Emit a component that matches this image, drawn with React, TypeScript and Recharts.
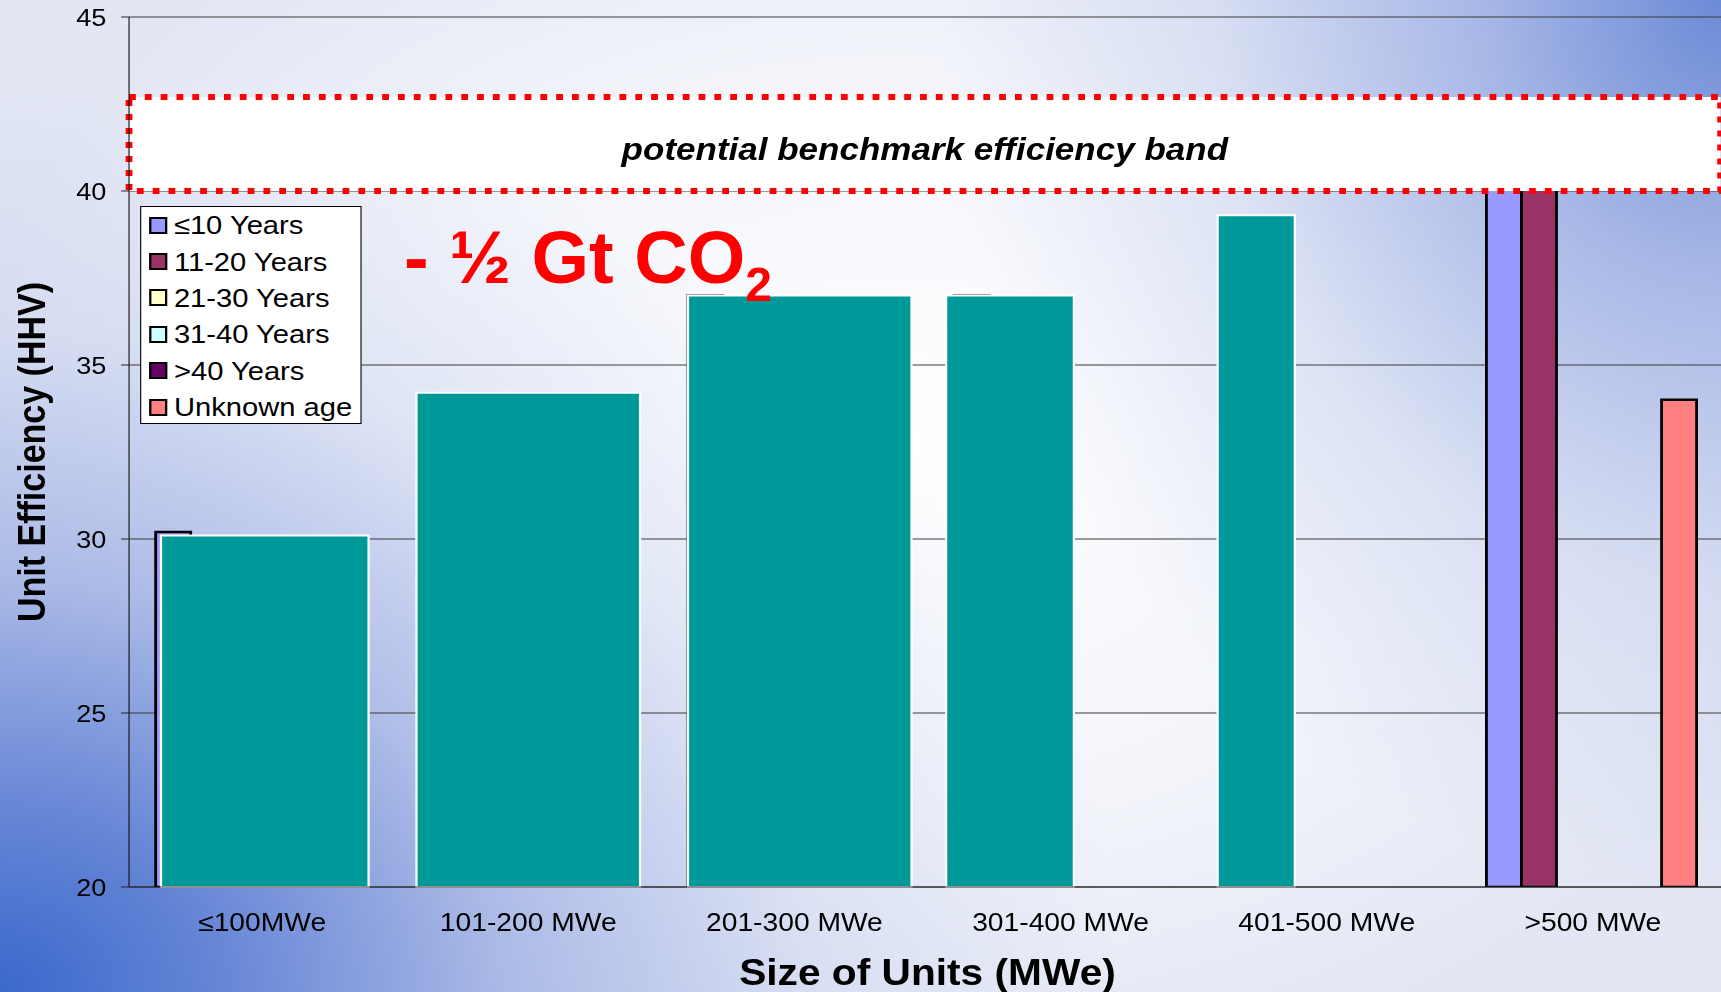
import React from "react";
import { BarChart, Bar, XAxis, YAxis, CartesianGrid, Legend, ReferenceArea } from "recharts";

// size classes on the x axis
const sizeClasses = ["≤100MWe", "101-200 MWe", "201-300 MWe", "301-400 MWe", "401-500 MWe", ">500 MWe"];

// unit efficiency (HHV, %) per age group, one value per size class
const upTo10Years = [30.2, null, 37.0, 37.0, null, 41.0];
const years11to20 = [null, null, null, null, null, 41.0];
const years21to30 = [null, null, null, null, null, null];
const years31to40 = [null, null, null, null, null, null];
const over40Years = [null, null, null, null, null, null];
const unknownAge = [null, null, null, null, null, 34.0];

// teal overlay: average efficiency per size class and its span (in size-class units)
const averageEfficiency = [30.1, 34.2, 37.0, 37.0, 39.3];
const averageFrom = [0.12, 1.08, 2.1, 3.07, 4.09];
const averageTo = [0.9, 1.92, 2.94, 3.55, 4.38];

// benchmark band
const bandLow = 40;
const bandHigh = 42.7;
const bandEnd = 5.98;

const yTicks = [20, 25, 30, 35, 40, 45];
const classBounds = [0, 1, 2, 3, 4, 5, 6];

const ageGroups = [
  { key: "upTo10", name: "≤10 Years", color: "#9999FF", values: upTo10Years },
  { key: "y11to20", name: "11-20 Years", color: "#993366", values: years11to20 },
  { key: "y21to30", name: "21-30 Years", color: "#FFFFCC", values: years21to30 },
  { key: "y31to40", name: "31-40 Years", color: "#CCFFFF", values: years31to40 },
  { key: "over40", name: ">40 Years", color: "#660066", values: over40Years },
  { key: "unknown", name: "Unknown age", color: "#FF8080", values: unknownAge },
];

const data = sizeClasses.map((size, i) => {
  // classMid gives the numeric size-class axis something to span
  const row: any = { size, classMid: i + 0.5 };
  ageGroups.forEach((g) => {
    row[g.key] = g.values[i];
  });
  return row;
});

// the source slide is stretched horizontally
const STRETCH = 1.13;
const W = 1540;
const H = 992;

const renderLegend = ({ payload }: any) => {
  const items = [...(payload || [])].sort(
    (a: any, b: any) =>
      ageGroups.findIndex((g) => g.key === a.dataKey) - ageGroups.findIndex((g) => g.key === b.dataKey)
  );
  return (
    <div
      style={{
        boxSizing: "border-box",
        width: 196.5,
        height: 218,
        background: "#fff",
        border: "1px solid #000",
      }}
    >
      {items.map((item: any) => (
        <div key={item.dataKey} style={{ display: "flex", alignItems: "center", height: 36.4 }}>
          <span
            style={{
              boxSizing: "border-box",
              display: "inline-block",
              width: 16,
              height: 17,
              marginLeft: 7,
              marginRight: 6,
              background: item.color,
              border: "2px solid #000",
            }}
          />
          <span style={{ fontSize: 25.8, color: "#000", lineHeight: "28px" }}>{item.value}</span>
        </div>
      ))}
    </div>
  );
};

export default function App() {
  return (
    <div
      style={{
        position: "absolute",
        left: 0,
        top: 0,
        width: 1721,
        height: 992,
        overflow: "hidden",
        fontFamily: '"Liberation Sans", Arial, sans-serif',
        background: [
          "radial-gradient(ellipse 1120px 920px at 0% 100%, rgba(58,104,204,1) 0%, rgba(86,121,210,0.88) 20%, rgba(135,157,221,0.62) 45%, rgba(175,190,233,0.3) 72%, rgba(255,255,255,0) 100%)",
          "radial-gradient(ellipse 780px 900px at 100% 0%, rgba(108,139,214,1) 0%, rgba(145,166,225,0.75) 30%, rgba(185,198,235,0.4) 65%, rgba(255,255,255,0) 100%)",
          "radial-gradient(ellipse 950px 650px at 52% 45%, rgba(255,255,255,1) 0%, rgba(255,255,255,0.6) 55%, rgba(255,255,255,0) 100%)",
          "#e3e7f4",
        ].join(", "),
      }}
    >
      <div
        style={{
          position: "relative",
          width: W,
          height: H,
          transform: `scaleX(${STRETCH})`,
          transformOrigin: "0 0",
        }}
      >
        <BarChart
          width={W}
          height={H}
          data={data}
          margin={{ top: 17, right: 12.6, left: 0, bottom: 0 }}
          barCategoryGap="10%"
          barGap={0}
        >
          <CartesianGrid vertical={false} stroke="#3a3a3a" />
          <XAxis
            xAxisId="bounds"
            dataKey="classMid"
            type="number"
            domain={[0, 6]}
            ticks={classBounds}
            allowDataOverflow
            tick={false}
            tickSize={7}
            tickLine={{ stroke: "#222" }}
            axisLine={false}
            height={0}
          />
          <XAxis
            dataKey="size"
            interval={0}
            tickLine={false}
            axisLine={{ stroke: "#222" }}
            tickSize={6}
            tickMargin={20}
            height={105}
            tick={{ fontSize: 25, fill: "#000" }}
            label={{
              value: "Size of Units (MWe)",
              position: "insideBottom",
              offset: 7,
              style: { fontSize: 36, fontWeight: "bold", fill: "#000" },
            }}
          />
          <YAxis
            domain={[20, 45]}
            ticks={yTicks}
            allowDataOverflow
            width={114.2}
            tickSize={7}
            tickMargin={13}
            tickLine={{ stroke: "#222" }}
            axisLine={{ stroke: "#111" }}
            tick={{ fontSize: 24, fill: "#000" }}
            label={{
              value: "Unit Efficiency (HHV)",
              angle: -90,
              position: "insideLeft",
              offset: 27.4,
              style: { textAnchor: "middle", fontSize: 34, fontWeight: "bold", fill: "#000" },
            }}
          />
          {ageGroups.map((g) => (
            <Bar
              key={g.key}
              dataKey={g.key}
              name={g.name}
              fill={g.color}
              stroke="#000"
              strokeWidth={2.5}
              isAnimationActive={false}
            />
          ))}
          {averageEfficiency.map((v, i) => (
            <ReferenceArea
              key={`avg-${i}`}
              xAxisId="bounds"
              x1={averageFrom[i]}
              x2={averageTo[i]}
              y1={20}
              y2={v}
              fill="#009999"
              fillOpacity={1}
              stroke="#ffffff"
              strokeWidth={2}
              zIndex={350}
            />
          ))}
          <ReferenceArea
            xAxisId="bounds"
            x1={0}
            x2={bandEnd}
            y1={bandLow}
            y2={bandHigh}
            fill="#ffffff"
            fillOpacity={1}
            stroke="#ff0000"
            strokeWidth={6}
            strokeDasharray="6 8"
            zIndex={360}
            label={{
              value: "potential benchmark efficiency band",
              position: "insideBottom",
              offset: 31,
              style: { fontSize: 31, fontWeight: "bold", fontStyle: "italic", fill: "#000" },
            }}
          />
          <Legend
            layout="vertical"
            align="center"
            verticalAlign="middle"
            wrapperStyle={{ position: "absolute", left: 123.9, top: 206, width: 196.5, height: 218 }}
            content={renderLegend}
          />
        </BarChart>
      </div>
      <svg
        width={1721}
        height={992}
        style={{ position: "absolute", left: 0, top: 0, pointerEvents: "none" }}
      >
        <text x={404} y={283} fontSize={74} fontWeight="bold" fill="#ff0000">
          - ½ Gt CO
          <tspan fontSize={48} dy={18}>
            2
          </tspan>
        </text>
      </svg>
    </div>
  );
}
